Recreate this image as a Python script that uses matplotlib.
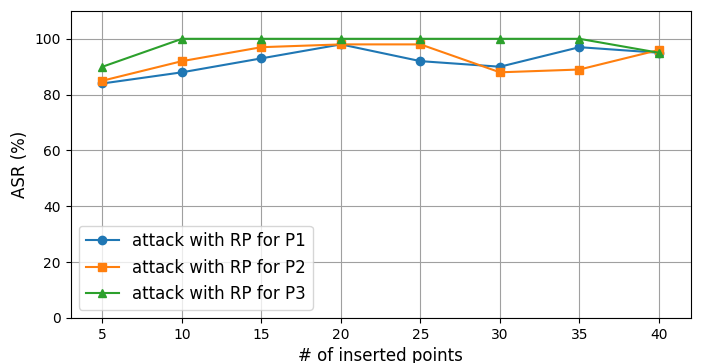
import numpy as np
import matplotlib
matplotlib.use("Agg")
import matplotlib.pyplot as plt

# число вставленных точек и ASR для трёх вариантов атаки
n_points = [5, 10, 15, 20, 25, 30, 35, 40]
asr_p1 = [84, 88, 93, 98, 92, 90, 97, 95]
asr_p2 = [85, 92, 97, 98, 98, 88, 89, 96]
asr_p3 = [90, 100, 100, 100, 100, 100, 100, 95]

fig = plt.figure(figsize=(7.07, 3.63), dpi=100)
ax = fig.add_axes([0.1, 0.124, 0.877, 0.846])

ax.plot(n_points, asr_p1, marker='o', label='attack with RP for P1')
ax.plot(n_points, asr_p2, marker='s', label='attack with RP for P2')
ax.plot(n_points, asr_p3, marker='^', label='attack with RP for P3')

ax.set_xlim(3, 42)
ax.set_ylim(0, 110)
ax.set_xticks(n_points)
ax.set_xlabel('# of inserted points', fontsize=12)
ax.set_ylabel('ASR (%)', fontsize=12)
ax.grid(True, color='#a0a0a0')
ax.legend(loc='lower left', fontsize=12)

fig.savefig('out.png', dpi=100)
